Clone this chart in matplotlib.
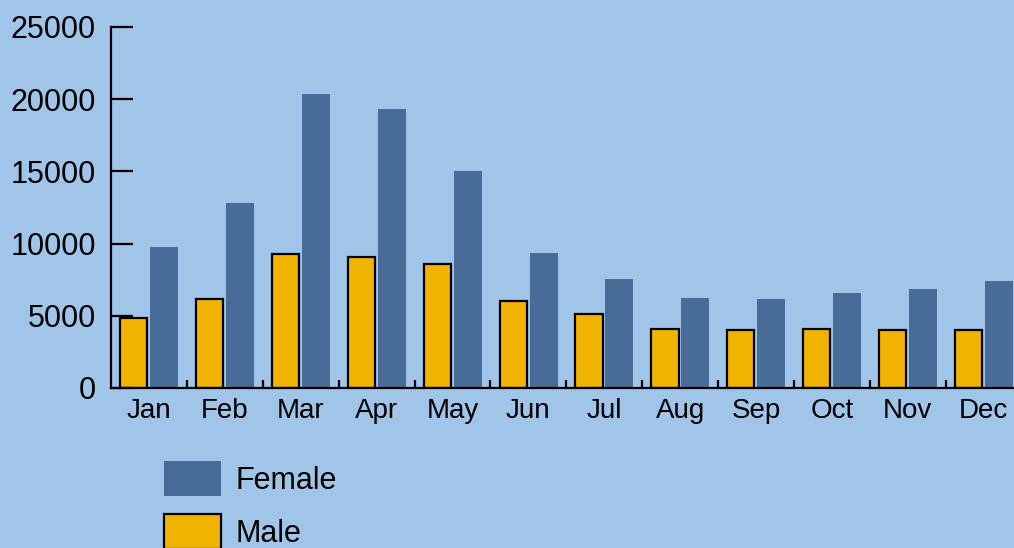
#!/usr/bin/env python3
"""Monthly counts by sex, grouped bar chart."""

import matplotlib
matplotlib.use('Agg')
import matplotlib.pyplot as plt
import matplotlib.patches as mpatches
import numpy as np

months = ['Jan', 'Feb', 'Mar', 'Apr', 'May', 'Jun',
          'Jul', 'Aug', 'Sep', 'Oct', 'Nov', 'Dec']
male = [4870, 6140, 9280, 9090, 8560, 6030, 5100, 4090, 3990, 4110, 4040, 4040]
female = [9740, 12810, 20340, 19320, 15030, 9350, 7550, 6230, 6160, 6580, 6860, 7410]
y_ticks = [0, 5000, 10000, 15000, 20000, 25000]

BG = '#a0c5e9'
FEMALE_C = '#486c98'
MALE_C = '#f0b400'

plt.rcParams['font.family'] = ['Liberation Sans', 'DejaVu Sans']

fig = plt.figure(figsize=(10.14, 5.48), dpi=100, facecolor=BG)
ax = fig.add_axes([0.1095, 0.292, 0.8905, 0.6588], facecolor=BG)

x = np.arange(len(months))
w = 0.36
ax.bar(x - 0.2, male, width=w, color=MALE_C, edgecolor='black', linewidth=1.6)
ax.bar(x + 0.2, female, width=w + 0.01, color=FEMALE_C, linewidth=0)

ax.set_xlim(-0.5, 11.4)
ax.set_ylim(0, 25000)

for s in ['top', 'right']:
    ax.spines[s].set_visible(False)
for s in ['left', 'bottom']:
    ax.spines[s].set_linewidth(1.6)

ax.set_yticks(y_ticks)
ax.set_yticklabels([str(v) for v in y_ticks])
ax.tick_params(axis='y', direction='in', length=16, width=1.6, pad=11, labelsize=22)

ax.set_xticks(x)
ax.set_xticklabels(months)
ax.set_xticks(x[:-1] + 0.5, minor=True)
ax.tick_params(axis='x', which='major', length=0, pad=7, labelsize=20)
ax.tick_params(axis='x', which='minor', direction='in', length=6, width=1.6)

handles = [mpatches.Patch(facecolor=FEMALE_C, edgecolor='none', label='Female'),
           mpatches.Patch(facecolor=MALE_C, edgecolor='black', linewidth=1.6, label='Male')]
fig.legend(handles=handles, loc='upper left', bbox_to_anchor=(0.1617, 0.158),
           frameon=False, fontsize=22, handlelength=1.86, handleheight=1.36,
           handletextpad=0.48, labelspacing=0.6, borderaxespad=0, borderpad=0)

fig.savefig('out.png', dpi=100, facecolor=BG)
